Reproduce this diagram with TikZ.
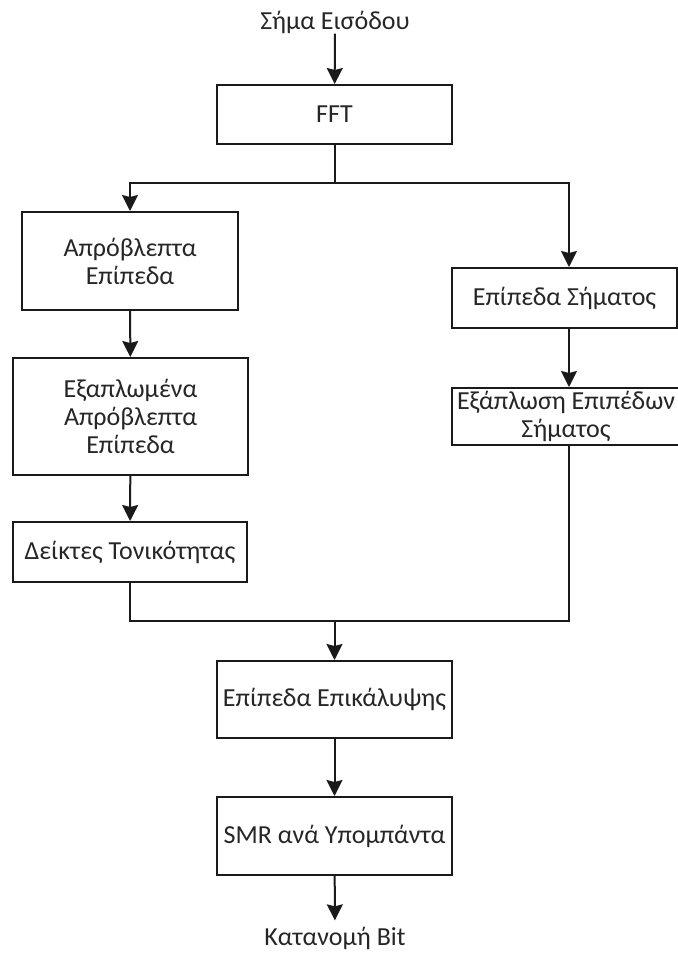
\documentclass[tikz,border=0pt]{standalone}
\usepackage{fontspec}
\setmainfont{Carlito}
\usetikzlibrary{arrows.meta}
\definecolor{ink}{HTML}{1A1A1A}
\definecolor{txt}{HTML}{262626}
\tikzset{
  blk/.style={draw=ink, line width=1pt, fill=white, inner sep=0pt, align=center,
              text=txt, font=\fontsize{13}{14}\selectfont},
  lbl/.style={inner sep=0pt, text=txt, font=\fontsize{13}{14}\selectfont},
  wire/.style={draw=ink, line width=1pt},
  arr/.style={wire, -{Stealth[length=8pt,width=8pt,inset=1pt]}}
}
\begin{document}
\begin{tikzpicture}[x=0.5pt,y=-0.5pt]
\useasboundingbox (0,0) rectangle (678,953);
\clip (0,0) rectangle (678,953);

% input and output labels
\node[lbl] (in)  at (335,22)  {Σήμα Εισόδου};
\node[lbl] (out) at (335,938) {Κατανομή Bit};

% blocks
\node[blk, minimum width=117.5pt, minimum height=29.5pt] (fft) at (334.5,114.5) {FFT};
\node[blk, minimum width=108pt, minimum height=49pt] (unpred) at (130,261) {Απρόβλεπτα\\Επίπεδα};
\node[blk, minimum width=117.5pt, minimum height=58.5pt] (spread) at (130.5,416.5) {Εξαπλωμένα\\Απρόβλεπτα\\Επίπεδα};
\node[blk, minimum width=117pt, minimum height=30pt] (tonal) at (130,552) {Δείκτες Τονικότητας};
\node[blk, minimum width=112.5pt, minimum height=30pt] (siglev) at (564.5,298) {Επίπεδα Σήματος};
\node[blk, minimum width=114pt, minimum height=28.5pt] (sigspread) at (566,416.5) {Εξάπλωση Επιπέδων\\Σήματος};
\node[blk, minimum width=117.5pt, minimum height=38.5pt] (mask) at (334.5,699.5) {Επίπεδα Επικάλυψης};
\node[blk, minimum width=117.5pt, minimum height=39pt] (smr) at (334.5,836) {SMR ανά Υπομπάντα};

% branching and joining points
\coordinate (split)  at (334.5,183);
\coordinate (splitR) at (569,183);
\coordinate (join)   at (334.5,621);
\coordinate (joinR)  at (569,621);

% connectors
\draw[arr] (in) -- (fft);
\draw[wire] (fft) -- (split);
\draw[arr] (split) -| (unpred);
\draw[arr] (split) -- (splitR) -- (splitR |- siglev.north);
\draw[arr] (unpred) -- (spread);
\draw[arr] (spread) -- (tonal);
\draw[arr] (siglev.south -| splitR) -- (sigspread.north -| splitR);
\draw[wire] (tonal) |- (joinR) -- (sigspread.south -| joinR);
\draw[arr] (join) -- (mask);
\draw[arr] (mask) -- (smr);
\draw[arr, shorten >=3pt] (smr) -- (out);
\end{tikzpicture}
\end{document}
